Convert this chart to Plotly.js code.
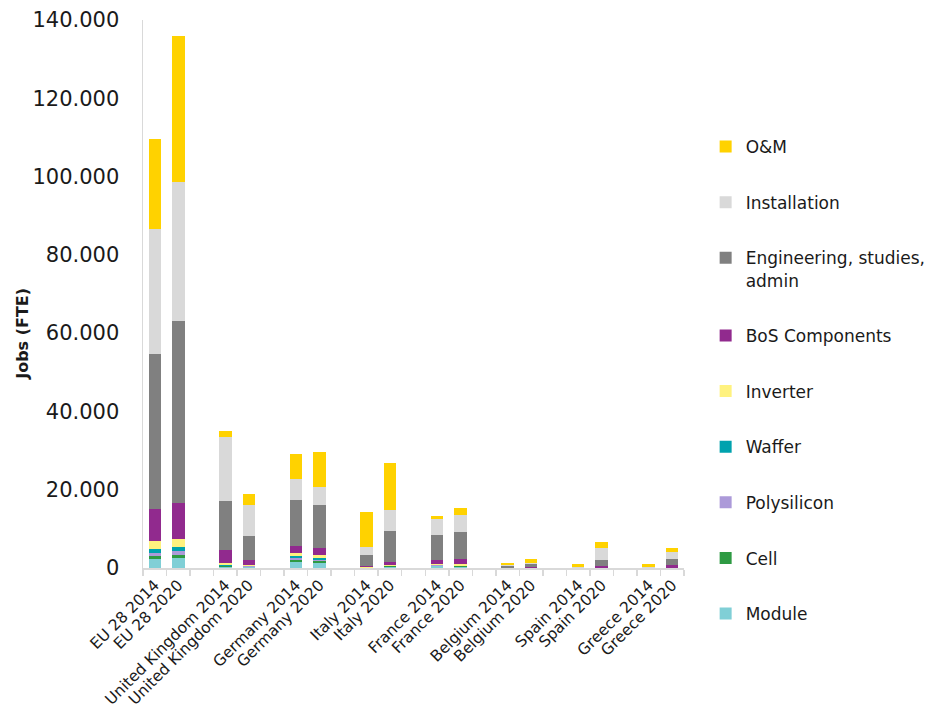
<!DOCTYPE html>
<html>
<head>
<meta charset="utf-8">
<script src="https://cdn.plot.ly/plotly-3.0.1.min.js"></script>
<style>
  html, body { margin: 0; padding: 0; background: #fff; }
  #chart { width: 946px; height: 709px; }
</style>
</head>
<body>
<div id="chart"></div>
<script>
// PV jobs (FTE) by value-chain segment, per country, 2014 vs 2020
const bars = [
  'EU 28 2014', 'EU 28 2020',
  'United Kingdom 2014', 'United Kingdom 2020',
  'Germany 2014', 'Germany 2020',
  'Italy 2014', 'Italy 2020',
  'France 2014', 'France 2020',
  'Belgium 2014', 'Belgium 2020',
  'Spain 2014', 'Spain 2020',
  'Greece 2014', 'Greece 2020'
];

// values in FTE, same order as bars
const module_      = [2400, 2600, 300, 300, 1500, 1200,  50, 300, 400, 300,   0,   0,   0,   0,   0,   0];
const cell         = [ 600,  800, 100,  50,  500,  500,   0, 100, 100, 100,   0,   0,   0,   0,   0,   0];
const polysilicon  = [ 900,  900, 100, 200,  500,  400,  50, 100, 200, 100,   0,   0,   0,   0,   0,   0];
const waffer       = [1000, 1000, 300,  50,  600,  500,   0,  50, 100, 100,   0,   0,   0,   0,   0,   0];
const inverter     = [2000, 2200, 400, 100,  700,  600, 100, 250, 200, 300,   0,   0,   0, 100,   0, 100];
const bos          = [8100, 9000, 3300, 1400, 1900, 2000, 400, 800, 1100, 1300, 100, 200,   0, 500,   0, 700];
const engineering  = [39700, 46600, 12700, 6200, 11600, 10800, 2800, 7800, 6300, 7100, 400, 800, 100, 1400, 50, 1400];
const installation = [32000, 35400, 16300, 7900, 5400, 4600, 1900, 5300, 4100, 4300, 200, 300, 100, 3000, 150, 1900];
const om           = [23000, 37500, 1500, 2800, 6400, 9100, 9000, 12200, 900, 1800, 700, 1100, 900, 1600, 700, 900];

const seriesNames = ['Module', 'Cell', 'Polysilicon', 'Waffer', 'Inverter', 'BoS Components',
                     'Engineering, studies,<br>admin', 'Installation', 'O&M'];
const seriesValues = [module_, cell, polysilicon, waffer, inverter, bos, engineering, installation, om];
const seriesColors = ['#80CFD6', '#2E9A43', '#AC9AD9', '#00A2AE', '#FFF27F', '#912A8E',
                      '#808080', '#D9D9D9', '#FFD200'];

// each country pair is followed by an empty slot on the category axis
const categories = [];
const slotOf = [];
bars.forEach((b, i) => {
  slotOf.push(categories.length);
  categories.push(b);
  if (i % 2 === 1 && i < bars.length - 1) categories.push(' '.repeat((i + 1) / 2));
});

function expand(vals) {
  const out = categories.map(() => null);
  vals.forEach((v, i) => { out[slotOf[i]] = v; });
  return out;
}

const nSeries = seriesNames.length;
const traces = seriesNames.map((name, k) => ({
  type: 'bar',
  name: name,
  x: categories,
  y: expand(seriesValues[k]),
  legendgroup: 'g' + k,
  legendrank: (nSeries - k) * 10,   // top segment listed first
  marker: { color: seriesColors[k], line: { width: 0 } },
  hoverinfo: 'x+y+name'
}));

const font = '"DejaVu Sans", Verdana, sans-serif';
const ink = '#1a1a1a';

const layout = {
  width: 946,
  height: 709,
  margin: { l: 143, r: 262, t: 20, b: 141 },
  paper_bgcolor: '#ffffff',
  plot_bgcolor: '#ffffff',
  barmode: 'stack',
  bargap: 0.47,
  separators: ',.',
  font: { family: font, color: ink },
  xaxis: {
    type: 'category',
    categoryorder: 'array',
    categoryarray: categories,
    tickson: 'boundaries',
    ticks: 'outside',
    ticklen: 6,
    tickcolor: '#D9D9D9',
    tickwidth: 1.5,
    showline: true,
    linecolor: '#D9D9D9',
    linewidth: 2,
    showgrid: false,
    tickangle: -45,
    tickfont: { size: 15.5, family: font, color: ink },
    automargin: false
  },
  yaxis: {
    range: [0, 140000],
    dtick: 20000,
    tickformat: ',d',
    showgrid: false,
    zeroline: false,
    showline: true,
    linecolor: '#D9D9D9',
    linewidth: 1.5,
    ticks: '',
    ticklabelstandoff: 18,
    tickfont: { size: 21, family: font, color: ink },
    automargin: false
  },
  annotations: [{
    text: 'Jobs (FTE)',
    xref: 'paper', yref: 'paper',
    x: -0.224, y: 0.427,
    xanchor: 'center', yanchor: 'middle',
    textangle: -90,
    showarrow: false,
    font: { size: 16, family: font, color: ink, weight: 'bold' }
  }],
  legend: {
    x: 1.04,
    xanchor: 'left',
    y: 0.801,
    yanchor: 'top',
    traceorder: 'grouped',
    tracegroupgap: 30.5,
    valign: 'top',
    font: { size: 17, family: font, color: ink },
    bgcolor: 'rgba(0,0,0,0)'
  },
  showlegend: true
};

Plotly.newPlot('chart', traces, layout, { displayModeBar: false, staticPlot: true });
</script>
</body>
</html>
